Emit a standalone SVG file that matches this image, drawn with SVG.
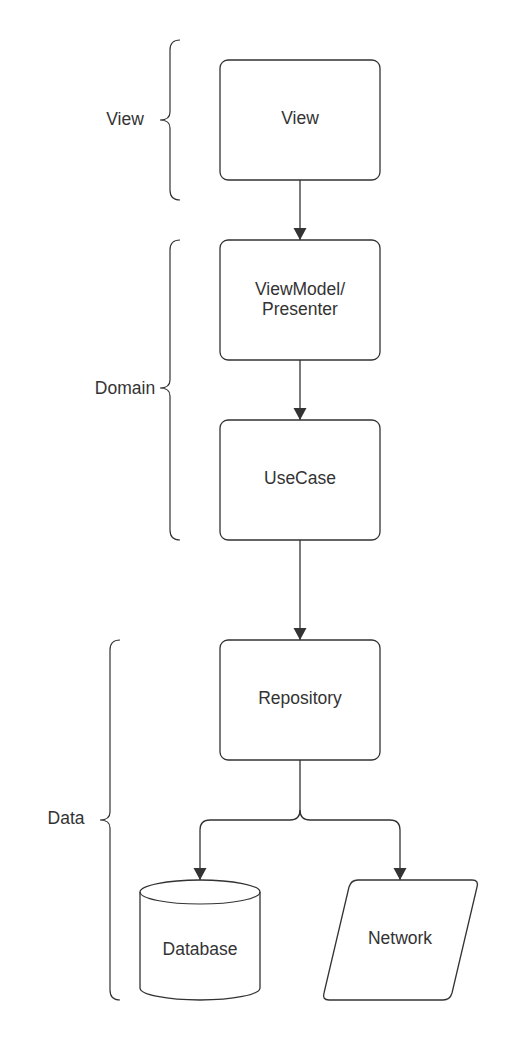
<svg xmlns="http://www.w3.org/2000/svg" width="520" height="1040" viewBox="0 0 520 1040">
<defs>
<style>
.n{fill:#fff;stroke:#333;stroke-width:1.3}
.b{fill:none;stroke:#333;stroke-width:1.2}
.c{fill:none;stroke:#333;stroke-width:1.3}
text{font-family:"Liberation Sans",Arial,sans-serif;font-size:17.5px;fill:#333;text-anchor:middle;dominant-baseline:central}
</style>
<marker id="ah" viewBox="0 0 12 17" refX="12" refY="8.5" markerWidth="12" markerHeight="17" markerUnits="userSpaceOnUse" orient="auto">
<path d="M0,2 L12,8.5 L0,15 Z" fill="#333"/>
</marker>
</defs>
<rect width="520" height="1040" fill="#fff"/>
<g id="brace-view">
<path class="b" d="M180,40 Q170,40 170,50 L170,112 Q170,120 160,120 Q170,120 170,128 L170,190 Q170,200 180,200"/>
<text x="125" y="119">View</text>
</g>
<g id="brace-domain">
<path class="b" d="M180,240 Q170,240 170,250 L170,380 Q170,388 160,388 Q170,388 170,396 L170,530 Q170,540 180,540"/>
<text x="125" y="388">Domain</text>
</g>
<g id="brace-data">
<path class="b" d="M120,640 Q110,640 110,650 L110,812 Q110,820 100,820 Q110,820 110,828 L110,990 Q110,1000 120,1000"/>
<text x="66" y="818">Data</text>
</g>
<g id="connectors">
<path class="c" d="M300,180 L300,240" marker-end="url(#ah)"/>
<path class="c" d="M300,360 L300,420" marker-end="url(#ah)"/>
<path class="c" d="M300,540 L300,640" marker-end="url(#ah)"/>
<path class="c" d="M300,760 L300,810 Q300,820 290,820 L210,820 Q200,820 200,830 L200,880" marker-end="url(#ah)"/>
<path class="c" d="M300,810 Q300,820 310,820 L390,820 Q400,820 400,830 L400,880" marker-end="url(#ah)"/>
</g>
<g id="view">
<rect class="n" x="220" y="60" width="160" height="120" rx="8"/>
<text x="300" y="118">View</text>
</g>
<g id="viewmodel">
<rect class="n" x="220" y="240" width="160" height="120" rx="8"/>
<text x="300" y="289">ViewModel/</text>
<text x="300" y="309">Presenter</text>
</g>
<g id="usecase">
<rect class="n" x="220" y="420" width="160" height="120" rx="8"/>
<text x="300" y="478">UseCase</text>
</g>
<g id="repository">
<rect class="n" x="220" y="640" width="160" height="120" rx="8"/>
<text x="300" y="698">Repository</text>
</g>
<g id="database">
<path class="n" d="M140,892 A60,12 0 0 1 260,892 L260,988 A60,12 0 0 1 140,988 Z"/>
<path class="b" d="M140,892 A60,12 0 0 0 260,892"/>
<text x="200" y="949">Database</text>
</g>
<g id="network">
<path class="n" d="M358,880 L472,880 Q479,880 477,887 L452,993 Q450,1000 443,1000 L329,1000 Q322,1000 324,993 L349,887 Q351,880 358,880 Z"/>
<text x="400" y="938">Network</text>
</g>
</svg>
